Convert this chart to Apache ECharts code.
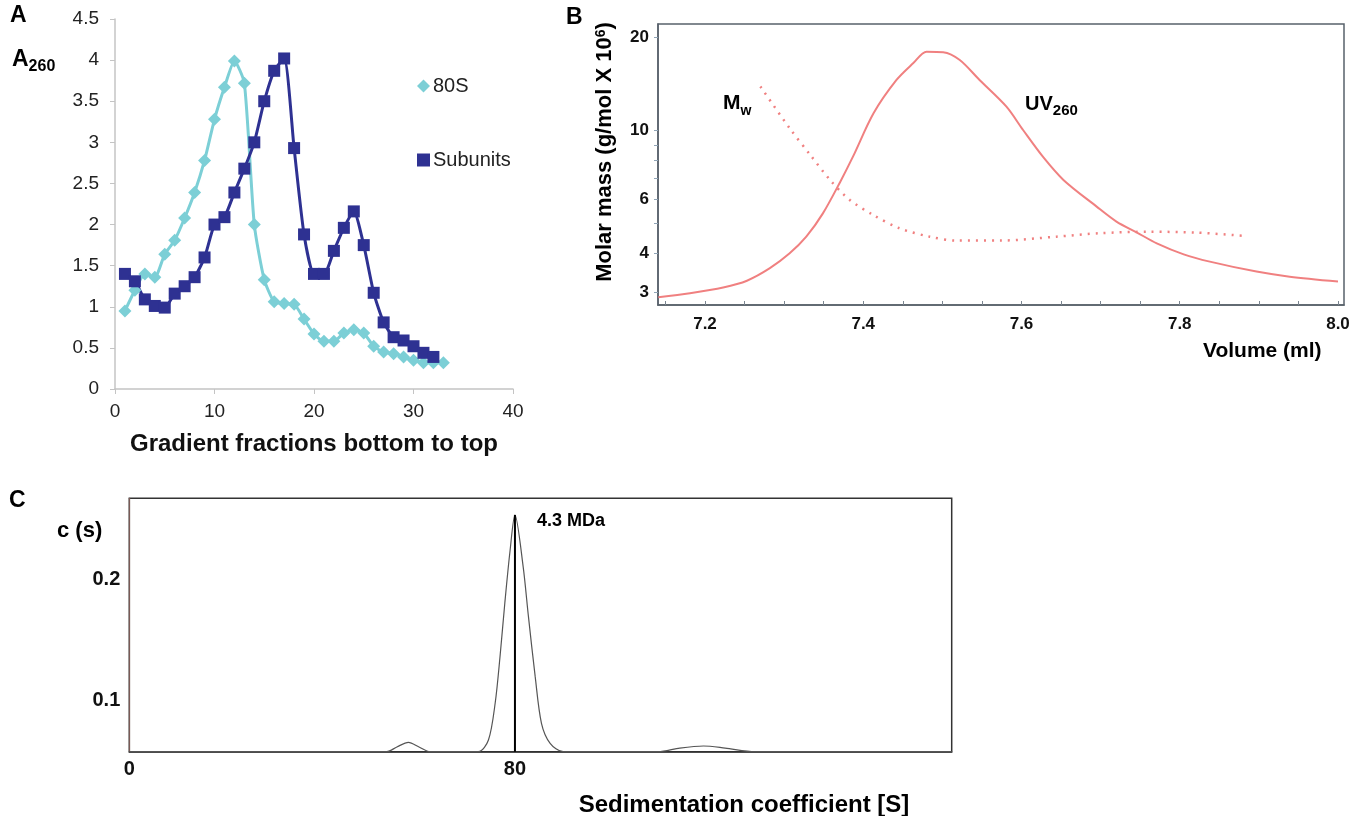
<!DOCTYPE html>
<html><head><meta charset="utf-8">
<script src="https://cdn.jsdelivr.net/npm/echarts@6/dist/echarts.min.js"></script>
<style>html,body{margin:0;padding:0;background:#fff}#c{width:1370px;height:816px}</style>
</head><body><div id="c"></div>
<script>
// ---- Panel A: gradient fractions ----
const fractions80S = [1,2,3,4,5,6,7,8,9,10,11,12,13,14,15,16,17,18,19,20,21,22,23,24,25,26,27,28,29,30,31,32,33];
const a260_80S = [0.95,1.2,1.40,1.36,1.64,1.81,2.08,2.39,2.78,3.28,3.67,3.99,3.72,2.00,1.33,1.06,1.04,1.03,0.85,0.67,0.58,0.58,0.68,0.72,0.68,0.52,0.45,0.43,0.39,0.35,0.32,0.32,0.32];
const fractionsSub = [1,2,3,4,5,6,7,8,9,10,11,12,13,14,15,16,17,18,19,20,21,22,23,24,25,26,27,28,29,30,31,32];
const a260_Sub = [1.40,1.31,1.09,1.01,0.99,1.16,1.25,1.36,1.60,2.00,2.09,2.39,2.68,3.00,3.50,3.87,4.02,2.93,1.88,1.40,1.40,1.68,1.96,2.16,1.75,1.17,0.81,0.63,0.59,0.52,0.44,0.39];

// ---- Panel B: MALS ----
const uvVolume = [7.141,7.181,7.223,7.253,7.282,7.307,7.328,7.349,7.371,7.387,7.413,7.442,7.463,7.480,7.501,7.522,7.547,7.581,7.602,7.627,7.653,7.695,7.720,7.746,7.771,7.805,7.838,7.897,7.939,8.0];
const uvSignal = [2.89,2.98,3.11,3.27,3.59,4.01,4.54,5.40,6.84,8.24,11.38,14.59,16.52,18.02,17.94,16.93,14.59,11.96,10.05,8.24,6.93,5.68,5.08,4.68,4.32,3.98,3.77,3.50,3.37,3.25];
const mwVolume = [7.27,7.307,7.333,7.358,7.383,7.413,7.446,7.484,7.518,7.573,7.644,7.699,7.762,7.821,7.884];
const mwMass = [13.9,10.18,8.35,6.93,5.97,5.33,4.83,4.54,4.41,4.41,4.54,4.66,4.71,4.68,4.56];
const bXLabels = [7.2,7.4,7.6,7.8,8.0];
const bXTicks = [7.15,7.2,7.25,7.3,7.35,7.4,7.45,7.5,7.55,7.6,7.65,7.7,7.75,7.8,7.85,7.9,7.95,8.0];
const bYLabels = [3,4,6,10,20];
const bYTicks = [3,4,5,6,7,8,9,10,20];

// ---- Panel C: sedimentation ----
const sedCoef = [0,53.4,55.5,57.9,60.1,62.4,72.4,74.5,75.9,76.9,77.9,79.0,80.0,81.7,82.8,84.2,85.5,87.3,90.0,109.7,114.2,119.1,123.6,129.8,170.6];
const cS = [0.058,0.058,0.0619,0.0657,0.0619,0.058,0.058,0.0676,0.0981,0.1362,0.1805,0.2241,0.2530,0.2104,0.1692,0.1198,0.0814,0.0649,0.058,0.058,0.0610,0.0627,0.0610,0.058,0.058];
const peakS = 80, peakC = 0.2530, baseC = 0.058;
const cXLabels = [0,80];
const cYLabels = [0.1,0.2];

const zip = (xs, ys) => xs.map((x, i) => [x, ys[i]]);
const F = '"Liberation Sans", Arial, sans-serif';
const gray = '#c4c4c4';
const salmon = '#f08080';
const boxB = '#58616b';

const chart = echarts.init(document.getElementById('c'));
chart.setOption({
  animation: false,
  backgroundColor: '#fff',
  textStyle: { fontFamily: F },
  grid: [
    { left: 115, top: 19, width: 398, height: 370 },
    { left: 658, top: 24, width: 686, height: 281, show: true, borderColor: boxB, borderWidth: 1.5 },
    { left: 129.3, top: 498.3, width: 822.4, height: 253.4, show: true, borderColor: '#333', borderWidth: 1.5 }
  ],
  legend: {
    orient: 'vertical', left: 412, top: 71, itemGap: 54, itemWidth: 13, itemHeight: 13,
    textStyle: { fontSize: 20, color: '#222', fontFamily: F, padding: [0, 0, 0, -2] },
    data: [{ name: '80S', icon: 'diamond' }, { name: 'Subunits', icon: 'rect' }]
  },
  xAxis: [
    { gridIndex: 0, type: 'value', min: 0, max: 40, interval: 10,
      axisLine: { lineStyle: { color: gray, width: 1.5 } },
      axisTick: { show: true, length: 5, lineStyle: { color: gray } },
      axisLabel: { fontSize: 19, color: '#222', margin: 13 },
      splitLine: { show: false },
      name: 'Gradient fractions bottom to top', nameLocation: 'middle', nameGap: 43,
      nameTextStyle: { fontSize: 24, fontWeight: 'bold', color: '#111' } },
    { gridIndex: 1, type: 'value', min: 7.1406, max: 8.0076,
      axisLine: { onZero: false, lineStyle: { color: boxB, width: 1.5 } },
      axisTick: { show: true, inside: true, length: 4, customValues: bXTicks, lineStyle: { color: '#7a8590' } },
      axisLabel: { customValues: bXLabels, formatter: v => Number(v).toFixed(1), fontSize: 17, fontWeight: 'bold', color: '#111', margin: 11 },
      splitLine: { show: false } },
    { gridIndex: 2, type: 'value', min: 0, max: 170.6,
      axisLine: { onZero: false, lineStyle: { color: '#333', width: 1.5 } },
      axisTick: { show: false },
      axisLabel: { customValues: cXLabels, fontSize: 20, fontWeight: 'bold', color: '#111', margin: 8 },
      splitLine: { show: false } }
  ],
  yAxis: [
    { gridIndex: 0, type: 'value', min: 0, max: 4.5, interval: 0.5,
      axisLine: { show: true, lineStyle: { color: gray, width: 1.5 } },
      axisTick: { show: true, length: 5, lineStyle: { color: gray } },
      axisLabel: { fontSize: 19, color: '#222', margin: 16 },
      splitLine: { show: false } },
    { gridIndex: 1, type: 'log', logBase: 10, min: 2.729, max: 22.14,
      axisLine: { show: true, lineStyle: { color: boxB, width: 1.5 } },
      axisTick: { show: true, length: 4, customValues: bYTicks, lineStyle: { color: '#8fa3b5' } },
      axisLabel: { customValues: bYLabels, formatter: v => String(Math.round(v)), fontSize: 17, fontWeight: 'bold', color: '#111', margin: 9 },
      splitLine: { show: false } },
    { gridIndex: 2, type: 'value', min: 0.058, max: 0.2667,
      axisLine: { show: true, onZero: false, lineStyle: { color: '#7a5a55', width: 1.2 } },
      axisTick: { show: false },
      axisLabel: { customValues: cYLabels, fontSize: 20, fontWeight: 'bold', color: '#111', margin: 9 },
      splitLine: { show: false } }
  ],
  series: [
    { name: '80S', type: 'line', xAxisIndex: 0, yAxisIndex: 0, data: zip(fractions80S, a260_80S),
      smooth: 0.2, symbol: 'diamond', symbolSize: 13, color: '#7ccfd6',
      lineStyle: { width: 3, color: '#7ccfd6' }, itemStyle: { color: '#7ccfd6' } },
    { name: 'Subunits', type: 'line', xAxisIndex: 0, yAxisIndex: 0, data: zip(fractionsSub, a260_Sub),
      smooth: 0.2, symbol: 'rect', symbolSize: 12, color: '#2e3192',
      lineStyle: { width: 3, color: '#2e3192' }, itemStyle: { color: '#2e3192' } },
    { name: 'UV260', type: 'line', xAxisIndex: 1, yAxisIndex: 1, data: zip(uvVolume, uvSignal),
      smooth: 0.3, symbol: 'none', lineStyle: { width: 2, color: salmon } },
    { name: 'Mw', type: 'line', xAxisIndex: 1, yAxisIndex: 1, data: zip(mwVolume, mwMass),
      smooth: 0.3, symbol: 'none', lineStyle: { width: 2.5, color: salmon, type: [2, 6] } },
    { name: 'c(s)', type: 'line', xAxisIndex: 2, yAxisIndex: 2, data: zip(sedCoef, cS),
      smooth: 0.3, symbol: 'none', lineStyle: { width: 1.2, color: '#555' } },
    { name: 'peak', type: 'line', xAxisIndex: 2, yAxisIndex: 2, data: [[peakS, baseC], [peakS, peakC]],
      symbol: 'none', lineStyle: { width: 2, color: '#000' } }
  ],
  graphic: [
    { type: 'text', x: 10, y: 4, style: { text: 'A', font: 'bold 23px ' + F, fill: '#000' } },
    { type: 'text', x: 566, y: 6, style: { text: 'B', font: 'bold 23px ' + F, fill: '#000' } },
    { type: 'text', x: 9, y: 489, style: { text: 'C', font: 'bold 23px ' + F, fill: '#000' } },
    { type: 'text', x: 12, y: 43, style: { text: '{a|A}{s|260}', fill: '#000',
        rich: { a: { font: 'bold 23px ' + F, lineHeight: 28, verticalAlign: 'bottom' },
                s: { font: 'bold 16px ' + F, lineHeight: 28, verticalAlign: 'bottom', padding: [0,0,-4,0] } } } },
    { type: 'text', x: 723, y: 88, style: { text: '{a|M}{s|w}', fill: '#000',
        rich: { a: { font: 'bold 21px ' + F, lineHeight: 26, verticalAlign: 'bottom' },
                s: { font: 'bold 14px ' + F, lineHeight: 26, verticalAlign: 'bottom', padding: [0,0,-4,0] } } } },
    { type: 'text', x: 1025, y: 88, style: { text: '{a|UV}{s|260}', fill: '#000',
        rich: { a: { font: 'bold 20px ' + F, lineHeight: 26, verticalAlign: 'bottom' },
                s: { font: 'bold 15px ' + F, lineHeight: 26, verticalAlign: 'bottom', padding: [0,0,-4,0] } } } },
    { type: 'text', x: 607, y: 152, rotation: Math.PI / 2,
      style: { text: '{a|Molar mass (g/mol X 10}{s|6}{a|)}', fill: '#000', align: 'center', verticalAlign: 'middle',
        rich: { a: { font: 'bold 22px ' + F, lineHeight: 26, verticalAlign: 'top' },
                s: { font: 'bold 14px ' + F, lineHeight: 26, verticalAlign: 'top' } } } },
    { type: 'text', x: 1203, y: 341, style: { text: 'Volume (ml)', font: 'bold 21px ' + F, fill: '#000' } },
    { type: 'text', x: 57, y: 520, style: { text: 'c (s)', font: 'bold 22px ' + F, fill: '#000' } },
    { type: 'text', x: 537, y: 512, style: { text: '4.3 MDa', font: 'bold 18px ' + F, fill: '#000' } },
    { type: 'text', x: 744, y: 805, style: { text: 'Sedimentation coefficient [S]', font: 'bold 24px ' + F, fill: '#000', align: 'center', verticalAlign: 'middle' } }
  ]
});
</script>
</body></html>
